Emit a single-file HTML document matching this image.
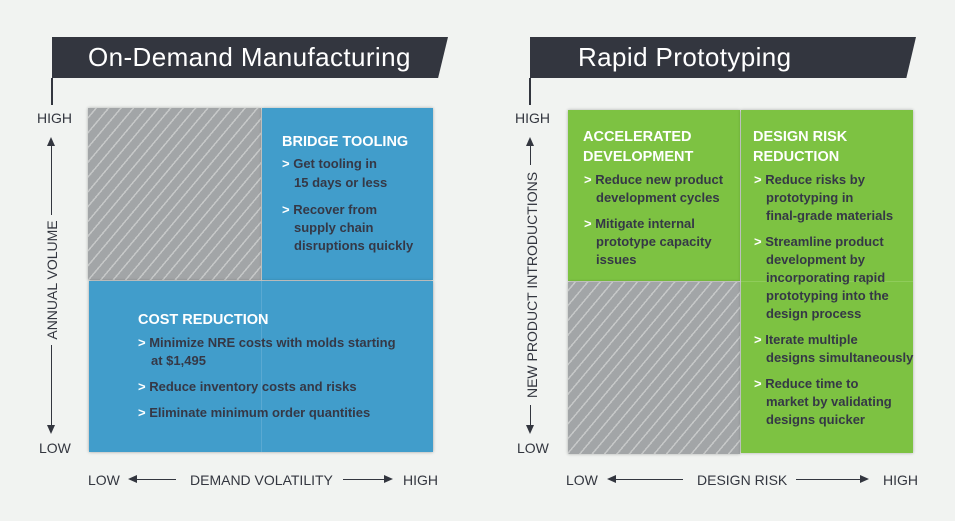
<!DOCTYPE html>
<html><head><meta charset="utf-8"><style>
*{margin:0;padding:0;box-sizing:border-box}
body{width:955px;height:521px;background:#f1f3f1;position:relative;overflow:hidden;font-family:"Liberation Sans",sans-serif}
.a{position:absolute;white-space:nowrap}
.t{line-height:18px;font-size:13px;font-weight:bold;color:#353846}
.h{line-height:20px;font-size:14.5px;font-weight:bold;color:#fff}
.g{color:#fff}
.ax{font-size:14px;color:#33363f;line-height:18px}
.hatch{background:#a2a5a7 repeating-linear-gradient(-50deg,#a2a5a7 0 8px,#c6c8c8 8px 9.5px)}
.bar{background:#33363f;color:#fff;font-size:26px;letter-spacing:0.4px;line-height:41px;height:41px}
</style></head><body>
<!-- LEFT -->
<div class="a bar" style="left:52px;top:37px;width:396px;clip-path:polygon(0 0,100% 0,97.5% 100%,0 100%);padding-left:36px">On-Demand Manufacturing</div>
<div class="a" style="left:51px;top:78px;width:2px;height:27px;background:#33363f"></div>
<div class="a hatch" style="left:88px;top:108px;width:173px;height:172px;box-shadow:0 0 3px rgba(0,0,0,.3)"></div>
<div class="a" style="left:262px;top:108px;width:171px;height:172px;background:#419dcb;box-shadow:0 0 3px rgba(0,0,0,.3)"></div>
<div class="a" style="left:89px;top:281px;width:344px;height:171px;background:#419dcb;box-shadow:0 0 3px rgba(0,0,0,.35)"></div>
<div class="a" style="left:261px;top:281px;width:1px;height:171px;background:#5aa9d2"></div>
<div class="a h" style="left:282px;top:132px">BRIDGE TOOLING</div>
<div class="a t" style="left:282px;top:155px"><span class="g">&gt;</span> Get tooling in</div>
<div class="a t" style="left:294px;top:174px">15 days or less</div>
<div class="a t" style="left:282px;top:201px"><span class="g">&gt;</span> Recover from</div>
<div class="a t" style="left:294px;top:219px">supply chain</div>
<div class="a t" style="left:294px;top:237px">disruptions quickly</div>
<div class="a h" style="left:138px;top:310px">COST REDUCTION</div>
<div class="a t" style="left:138px;top:334px"><span class="g">&gt;</span> Minimize NRE costs with molds starting</div>
<div class="a t" style="left:151px;top:352px">at $1,495</div>
<div class="a t" style="left:138px;top:378px"><span class="g">&gt;</span> Reduce inventory costs and risks</div>
<div class="a t" style="left:138px;top:404px"><span class="g">&gt;</span> Eliminate minimum order quantities</div>
<div class="a ax" style="left:37px;top:109px">HIGH</div>
<div class="a ax" style="left:39px;top:439px">LOW</div>
<div class="a" style="left:51px;top:140px;width:1px;height:75px;background:#33363f"></div>
<div class="a" style="left:47px;top:137px;border:4px solid transparent;border-bottom:9px solid #33363f;border-top:0"></div>
<div class="a" style="left:51px;top:345px;width:1px;height:80px;background:#33363f"></div>
<div class="a" style="left:47px;top:425px;border:4px solid transparent;border-top:9px solid #33363f;border-bottom:0"></div>
<div class="a ax" style="left:52px;top:280px;transform:translate(-50%,-50%) rotate(-90deg)">ANNUAL VOLUME</div>
<div class="a ax" style="left:88px;top:471px">LOW</div>
<div class="a" style="left:130px;top:479px;width:46px;height:1px;background:#33363f"></div>
<div class="a" style="left:128px;top:475px;border:4px solid transparent;border-right:9px solid #33363f;border-left:0"></div>
<div class="a ax" style="left:190px;top:471px">DEMAND VOLATILITY</div>
<div class="a" style="left:343px;top:479px;width:45px;height:1px;background:#33363f"></div>
<div class="a" style="left:384px;top:475px;border:4px solid transparent;border-left:9px solid #33363f;border-right:0"></div>
<div class="a ax" style="left:403px;top:471px">HIGH</div>
<!-- RIGHT -->
<div class="a bar" style="left:530px;top:37px;width:386px;clip-path:polygon(0 0,100% 0,97.5% 100%,0 100%);padding-left:48px">Rapid Prototyping</div>
<div class="a" style="left:529px;top:78px;width:2px;height:27px;background:#33363f"></div>
<div class="a" style="left:568px;top:110px;width:172px;height:171px;background:#7dc242;box-shadow:0 0 3px rgba(0,0,0,.3)"></div>
<div class="a hatch" style="left:568px;top:282px;width:172px;height:172px;box-shadow:0 0 3px rgba(0,0,0,.3)"></div>
<div class="a" style="left:741px;top:110px;width:172px;height:343px;background:#7dc242;box-shadow:0 0 3px rgba(0,0,0,.3)"></div>
<div class="a" style="left:741px;top:281px;width:172px;height:1px;background:#8fcc5a"></div>
<div class="a h" style="left:583px;top:127px">ACCELERATED</div>
<div class="a h" style="left:583px;top:147px">DEVELOPMENT</div>
<div class="a t" style="left:584px;top:171px"><span class="g">&gt;</span> Reduce new product</div>
<div class="a t" style="left:596px;top:189px">development cycles</div>
<div class="a t" style="left:584px;top:215px"><span class="g">&gt;</span> Mitigate internal</div>
<div class="a t" style="left:596px;top:233px">prototype capacity</div>
<div class="a t" style="left:596px;top:251px">issues</div>
<div class="a h" style="left:753px;top:127px">DESIGN RISK</div>
<div class="a h" style="left:753px;top:147px">REDUCTION</div>
<div class="a t" style="left:754px;top:171px"><span class="g">&gt;</span> Reduce risks by</div>
<div class="a t" style="left:766px;top:189px">prototyping in</div>
<div class="a t" style="left:766px;top:207px">final-grade materials</div>
<div class="a t" style="left:754px;top:233px"><span class="g">&gt;</span> Streamline product</div>
<div class="a t" style="left:766px;top:251px">development by</div>
<div class="a t" style="left:766px;top:269px">incorporating rapid</div>
<div class="a t" style="left:766px;top:287px">prototyping into the</div>
<div class="a t" style="left:766px;top:305px">design process</div>
<div class="a t" style="left:754px;top:331px"><span class="g">&gt;</span> Iterate multiple</div>
<div class="a t" style="left:766px;top:349px">designs simultaneously</div>
<div class="a t" style="left:754px;top:375px"><span class="g">&gt;</span> Reduce time to</div>
<div class="a t" style="left:766px;top:393px">market by validating</div>
<div class="a t" style="left:766px;top:411px">designs quicker</div>
<div class="a ax" style="left:515px;top:109px">HIGH</div>
<div class="a ax" style="left:517px;top:439px">LOW</div>
<div class="a" style="left:530px;top:140px;width:1px;height:25px;background:#33363f"></div>
<div class="a" style="left:526px;top:137px;border:4px solid transparent;border-bottom:9px solid #33363f;border-top:0"></div>
<div class="a" style="left:530px;top:405px;width:1px;height:22px;background:#33363f"></div>
<div class="a" style="left:526px;top:425px;border:4px solid transparent;border-top:9px solid #33363f;border-bottom:0"></div>
<div class="a ax" style="left:532px;top:285px;transform:translate(-50%,-50%) rotate(-90deg)">NEW PRODUCT INTRODUCTIONS</div>
<div class="a ax" style="left:566px;top:471px">LOW</div>
<div class="a" style="left:609px;top:479px;width:74px;height:1px;background:#33363f"></div>
<div class="a" style="left:607px;top:475px;border:4px solid transparent;border-right:9px solid #33363f;border-left:0"></div>
<div class="a ax" style="left:697px;top:471px">DESIGN RISK</div>
<div class="a" style="left:796px;top:479px;width:68px;height:1px;background:#33363f"></div>
<div class="a" style="left:860px;top:475px;border:4px solid transparent;border-left:9px solid #33363f;border-right:0"></div>
<div class="a ax" style="left:883px;top:471px">HIGH</div>
</body></html>
